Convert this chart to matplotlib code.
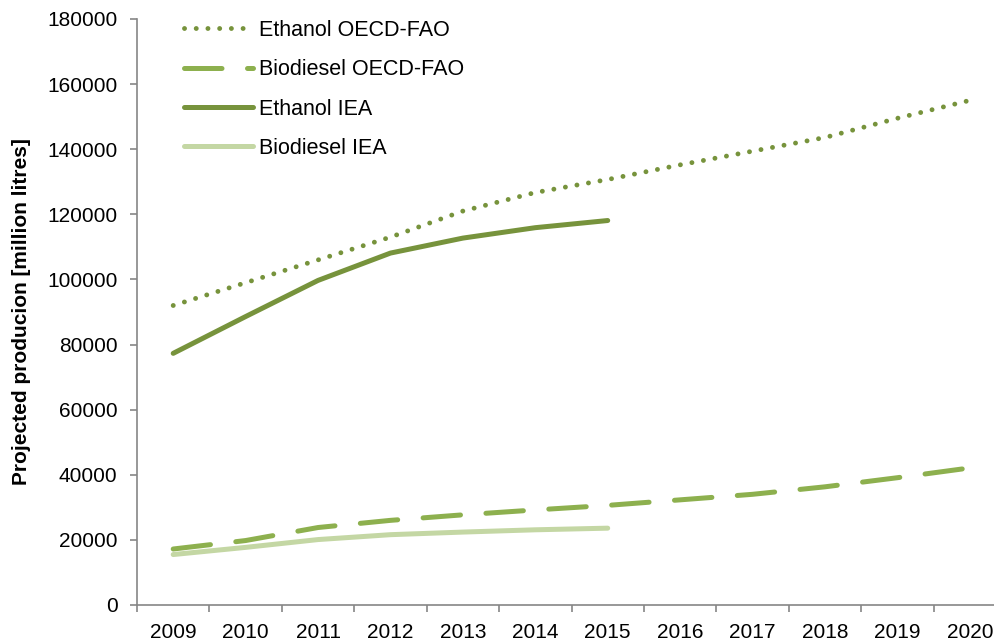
import numpy as np
import matplotlib.pyplot as plt

plt.rcParams['font.family'] = ['Liberation Sans', 'DejaVu Sans']

# ---- data ----
years = ['2009', '2010', '2011', '2012', '2013', '2014', '2015',
         '2016', '2017', '2018', '2019', '2020']
ethanol_oecd = [92000, 99000, 106000, 113000, 121000, 126700, 130700,
                135200, 139400, 143600, 149500, 155000]
biodiesel_oecd = [17200, 19800, 23800, 26000, 27700, 29200, 30600,
                  32300, 34000, 36300, 39100, 42100]
ethanol_iea = [77300, 88600, 99700, 108100, 112700, 115900, 118100]
biodiesel_iea = [15500, 17700, 20100, 21600, 22400, 23100, 23600]

DARK = '#77933C'
MID = '#8DB04E'
LIGHT = '#C4D7A4'
AXIS = '#868686'

fig = plt.figure(figsize=(9.94, 6.41), dpi=100, facecolor='white')
# plot area runs past the right edge of the picture, as in the original
ax = fig.add_axes([137 / 994, 36 / 641, 869 / 994, 586 / 641])

x = np.arange(len(years))
ax.plot(x, ethanol_oecd, color=DARK, lw=3.5, linestyle=(0, (0.01, 2.4)),
        dash_capstyle='round', label='Ethanol OECD-FAO')
ax.plot(x, biodiesel_oecd, color=MID, lw=3.6, linestyle=(0, (7.5, 5.1)),
        dash_capstyle='round', label='Biodiesel OECD-FAO')
ax.plot(x[:len(ethanol_iea)], ethanol_iea, color=DARK, lw=3.6,
        solid_capstyle='round', label='Ethanol IEA')
ax.plot(x[:len(biodiesel_iea)], biodiesel_iea, color=LIGHT, lw=3.6,
        solid_capstyle='round', label='Biodiesel IEA')

ax.set_xlim(-0.5, len(years) - 0.5)
ax.set_ylim(0, 180000)
ax.set_yticks(np.arange(0, 180001, 20000))
ax.set_yticklabels([str(v) for v in range(0, 180001, 20000)])
ax.set_xticks(x)
ax.set_xticklabels(years)
ax.set_xticks(np.arange(-0.5, len(years), 1), minor=True)

for s in ['top', 'right']:
    ax.spines[s].set_visible(False)
for s in ['left', 'bottom']:
    ax.spines[s].set_color(AXIS)
    ax.spines[s].set_linewidth(1.2)

ax.tick_params(axis='y', which='major', direction='out', length=5, width=1.2,
               color=AXIS, labelsize=15, pad=9)
ax.tick_params(axis='x', which='major', length=0, labelsize=15, pad=13)
ax.tick_params(axis='x', which='minor', direction='out', length=5, width=1.2,
               color=AXIS)

ax.set_ylabel('Projected producion [million litres]', fontsize=15,
              fontweight='bold', labelpad=12)

leg = ax.legend(loc='upper left', bbox_to_anchor=(184 / 994, 1 - 20 / 641),
                bbox_transform=fig.transFigure, frameon=False, fontsize=15.5,
                handlelength=3.2, handletextpad=0.3, labelspacing=0.85,
                borderpad=0, borderaxespad=0)

plt.savefig('out.png', dpi=100, facecolor='white')
